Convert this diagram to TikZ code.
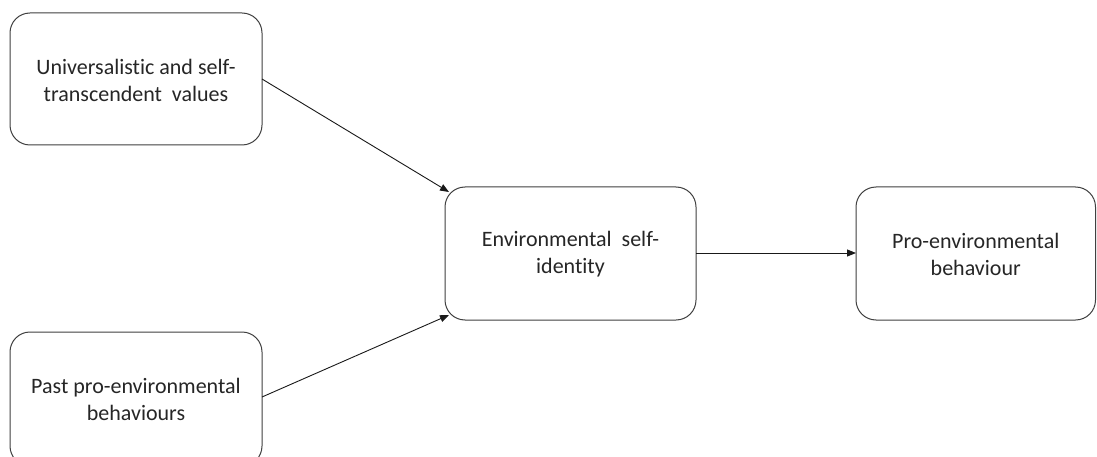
\documentclass[tikz,border=0pt]{standalone}
\usepackage{fontspec}
\setmainfont{Carlito}[Ligatures={NoCommon}]
\usetikzlibrary{calc,arrows.meta}
\begin{document}
\begin{tikzpicture}[x=1pt,y=-1pt,
  box/.style={draw=black!75, line width=1pt, rounded corners=20pt, fill=white, inner sep=0pt},
  lbl/.style={align=center, font=\fontsize{22}{27}\selectfont, text=black!85},
  conn/.style={draw=black!90, line width=0.9pt, -{Triangle[length=9pt,width=7pt]}}]
\useasboundingbox[fill=white] (0,0) rectangle (1097,457);
% boxes
\draw[box] (10,13) rectangle (262,145);
\node[lbl] (uv) at (136,80) {Universalistic and self-\\transcendent\ \ values};
\coordinate (uvE) at (262,79);
\draw[box] (10,332) rectangle (262,466);
\node[lbl] (pp) at (136,399) {Past pro-environmental\\behaviours};
\coordinate (ppE) at (262,397);
\draw[box] (445,187) rectangle (696,320);
\node[lbl] (es) at (570.5,254) {Environmental\ \ self-\\identity};
\coordinate (esE) at (696,253);
\coordinate (esNW) at (449,192);
\coordinate (esSW) at (449,315);
\draw[box] (856,187) rectangle (1095.5,320);
\node[lbl] (pb) at (975.75,254) {Pro-environmental\\behaviour};
\coordinate (pbW) at (856,253);
% connectors
\draw[conn] (uvE) -- (esNW);
\draw[conn] (ppE) -- (esSW);
\draw[conn] (esE) -- (pbW);
\end{tikzpicture}
\end{document}
